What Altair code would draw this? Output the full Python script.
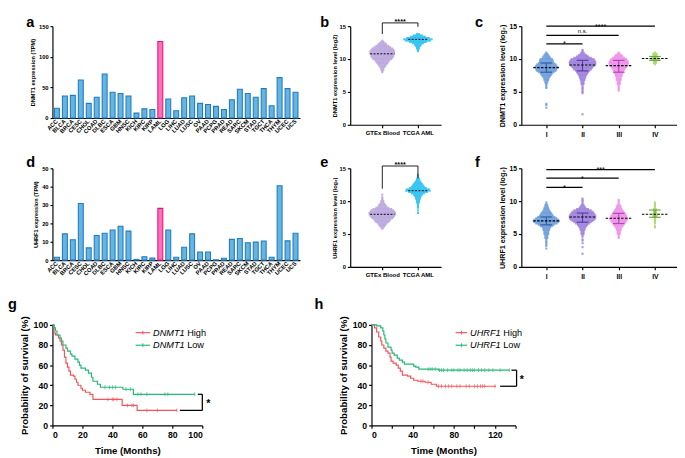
import altair as alt
import pandas as pd
import numpy as np

FONT = "Liberation Sans"

# ---------------- data ----------------
cancers = ["ACC", "BLCA", "BRCA", "CESC", "CHOL", "COAD", "DLBC", "ESCA", "GBM", "HNSC",
           "KICH", "KIRC", "KIRP", "LAML", "LGG", "LIHC", "LUAD", "LUSC", "OV", "PAAD",
           "PCPG", "PRAD", "READ", "SARC", "SKCM", "STAD", "TGCT", "THCA", "THYM", "UCEC", "UCS"]
dnmt1_tpm = [16, 36, 37, 62, 24, 34, 72, 42, 40, 36, 8, 15, 14, 125, 31, 12, 33, 36, 24, 22,
             19, 14, 30, 47, 40, 34, 48, 20, 66, 48, 42]
uhrf1_tpm = [1.6, 14.3, 11.1, 30.8, 6.7, 13.4, 14.6, 16.4, 18.5, 15.8, 0.4, 1.9, 1.2, 28.2, 16.4,
             1.6, 7.0, 14.3, 4.4, 4.4, 0.2, 1.0, 11.3, 11.8, 9.5, 9.8, 10.4, 1.6, 40.5, 10.5, 14.6]

bin_step = 0.2
b_gtex_start = 8.0
b_gtex_counts = [1, 1, 2, 2, 3, 4, 5, 6, 7, 8, 10, 11, 12, 12, 13, 13, 13, 12, 11, 9, 7, 5, 4, 2, 1]
b_aml_start = 11.2
b_aml_counts = [1, 1, 2, 2, 3, 4, 6, 9, 13, 15, 12, 8, 5, 2]
e_gtex_start = 5.8
e_gtex_counts = [1, 2, 3, 4, 5, 7, 8, 9, 11, 12, 13, 14, 14, 13, 12, 10, 7, 5, 4, 3, 2, 2, 1, 1, 1, 0, 1]
e_aml_start = 8.2
e_aml_counts = [1, 0, 1, 0, 1, 1, 1, 1, 2, 2, 2, 3, 3, 4, 5, 7, 10, 13, 12, 9, 7, 6, 5, 4, 3, 2, 2, 1, 1, 1]

stages = ["I", "II", "III", "IV"]
c_starts = [2.6, 1.6, 5.2, 9.2]
c_counts = [
    [1, 0, 1, 1] + [0] * 11 + [1, 1, 1, 1, 2, 2, 3, 3, 4, 5, 6, 7, 9, 11, 12, 12, 13, 12, 11, 9, 8, 8, 7, 5, 4, 3, 2, 1],
    [1] + [0] * 15 + [1, 1, 1, 1, 1, 1, 1, 2, 2, 2, 3, 3, 4, 4, 5, 6, 7, 8, 10, 11, 12, 14, 15, 15, 15, 14, 13, 10, 7, 5, 3, 2, 1, 1],
    [1, 1, 1, 1, 1, 2, 2, 2, 3, 3, 3, 4, 4, 5, 5, 6, 7, 8, 9, 10, 11, 11, 11, 10, 9, 7, 5, 4, 2, 1],
    [1, 2, 2, 3, 5, 4, 3, 2, 3, 1],
]
f_starts = [2.8, 2.0, 4.4, 6.0]
f_counts = [
    [1, 0, 1, 1, 1, 1, 1, 1, 2, 2, 2, 3, 3, 3, 4, 4, 5, 7, 9, 12, 14, 15, 14, 12, 10, 8, 7, 6, 5, 4, 3, 3, 2, 2, 1, 1],
    [1, 0, 0, 0, 0, 1, 0, 0, 1, 0, 1, 1, 0, 1, 1, 2, 2, 2, 3, 3, 4, 5, 6, 8, 10, 12, 14, 15, 15, 15, 14, 13, 12, 10, 7, 4, 3, 2, 1, 1, 1, 1, 1],
    [1, 1, 1, 2, 2, 2, 3, 3, 4, 5, 6, 7, 8, 9, 10, 10, 9, 9, 8, 7, 6, 5, 4, 3, 3, 2, 1, 1, 1, 1],
    [1, 1, 0, 1, 1, 1, 1, 1, 2, 3, 3, 2, 2, 2, 2, 1, 1, 1, 1, 1],
]
c_sig_y = [12.3, 13.6, 15.0]
c_sig_txt = ["*", "n.s.", "****"]
f_sig_y = [12.1, 13.5, 14.8]
f_sig_txt = ["*", "*", "***"]

# Kaplan-Meier (months, % surviving after each step)
g_hi_t = [0, 1, 2, 4, 5, 6, 7, 8, 9, 10, 11, 12, 14, 15, 16, 17, 19, 20, 22, 25, 27, 46.5, 56.5, 83]
g_hi_s = [100, 92, 90, 87, 84, 80, 75, 68, 62, 58, 54, 50, 49, 46, 43, 40, 37, 35, 33, 31, 26, 20, 15, 15]
g_hi_cens = [37, 40, 41, 43, 50, 53, 54, 63, 70, 83]
g_lo_t = [0, 1, 2, 3, 5, 6, 7, 9, 10, 12, 13, 15, 17, 18, 19, 22, 24, 26, 27, 30, 32, 47, 54, 95]
g_lo_s = [100, 97, 94, 90, 87, 84, 80, 77, 74, 71, 69, 66, 63, 60, 57, 55, 52, 48, 44, 41, 38, 36, 31, 31]
g_lo_cens = [35, 38, 40, 42, 49, 52, 57, 59, 63, 75, 77, 95]

h_hi_t = [0, 3, 5, 7, 9, 10, 12, 14, 16, 18, 19, 21, 24, 26, 28, 30, 35, 38, 41, 45, 52, 58, 63, 121]
h_hi_s = [100, 97, 93, 88, 84, 80, 77, 74, 72, 68, 64, 62, 60, 57, 54, 50, 49, 47, 45, 44, 43, 41, 39, 39]
h_hi_cens = [48, 50, 55, 65, 68, 72, 75, 78, 83, 86, 92, 95, 100, 103, 106, 108, 110, 120]
h_lo_t = [0, 5, 9, 11, 12, 13, 14, 16, 19, 20, 22, 25, 27, 30, 32, 41, 43, 46, 65, 134]
h_lo_s = [100, 99, 97, 94, 90, 86, 82, 78, 75, 72, 70, 67, 65, 63, 61, 59, 58, 56, 55, 55]
h_lo_cens = [55, 57, 59, 62, 66, 68, 70, 74, 78, 80, 84, 86, 90, 93, 96, 98, 100, 104, 107, 110, 114, 118, 125, 134]

# ---------------- styling ----------------
BLUE_FILL, BLUE_STROKE = "#65b4e2", "#1f7cc0"
PINK_FILL, PINK_STROKE = "#ff70b6", "#e8137f"
LAV, CYAN = "#b9a5de", "#2fc3f2"
ST_COL = ["#6b9bd9", "#9c7fdc", "#ef8fea", "#a9d56f"]
ST_BAR = ["#2f5fa8", "#5c3fa3", "#b347b3", "#6aa832"]
RED, GREEN = "#f2545b", "#25b877"
RAW = alt.Color("col:N", scale=None, legend=None)
ONE = pd.DataFrame({"v": [0]})


def letter(t, dx, dy):
    return alt.Chart(ONE).mark_text(text=t, fontSize=15, fontWeight="bold", align="left",
                                    baseline="alphabetic", color="black", font=FONT).encode(
        x=alt.value(dx), y=alt.value(dy))


def expand(start, counts, gx, dx):
    xs, ys = [], []
    for i, n in enumerate(counts):
        v = round(start + i * bin_step, 2)
        for k in range(n):
            xs.append(gx + (k - (n - 1) / 2) * dx)
            ys.append(v)
    return xs, ys


def bar_panel(vals, ytitle, ymax, ystep, let, ldy):
    df = pd.DataFrame({"cancer": cancers, "tpm": vals})
    df["col"] = [PINK_FILL if cn == "LAML" else BLUE_FILL for cn in cancers]
    df["scol"] = [PINK_STROKE if cn == "LAML" else BLUE_STROKE for cn in cancers]
    x = alt.X("cancer:N", sort=cancers, title=None,
              scale=alt.Scale(paddingInner=0.38, paddingOuter=0.25),
              axis=alt.Axis(labelAngle=-45, labelAlign="right", labelBaseline="middle", ticks=False,
                            labelFontSize=6, labelPadding=2))
    y = alt.Y("tpm:Q", scale=alt.Scale(domain=[0, ymax], nice=False),
              axis=alt.Axis(values=list(range(0, ymax + 1, ystep)), title=ytitle, titleFontSize=5.8,
                            labelFontSize=6, titlePadding=3, tickSize=2.5))
    bars = alt.Chart(df).mark_bar(strokeWidth=1.1).encode(
        x=x, y=y, fill=alt.Color("col:N", scale=None, legend=None),
        stroke=alt.Color("scol:N", scale=None, legend=None))
    return alt.layer(bars, letter(let, -27, ldy)).properties(width=256, height=95)


def two_group_panel(g_start, g_counts, a_start, a_counts, ytitle, let, ldy, br):
    dx = 0.055
    xs0, ys0 = expand(g_start, g_counts, 0, dx)
    xs1, ys1 = expand(a_start, a_counts, 1, dx)
    pts = pd.DataFrame({"x": xs0 + xs1, "y": ys0 + ys1,
                        "col": [LAV] * len(xs0) + [CYAN] * len(xs1)})
    X = alt.X("x:Q", scale=alt.Scale(domain=[-0.9, 1.65], nice=False, zero=False),
              axis=alt.Axis(values=[0, 1], labelExpr="datum.value == 0 ? 'GTEx Blood' : 'TCGA AML'",
                            title=None, labelFontSize=6.2, tickSize=3, labelPadding=2))
    Y = alt.Y("y:Q", scale=alt.Scale(domain=[0, 15], nice=False),
              axis=alt.Axis(values=[0, 5, 10, 15], title=ytitle, titleFontSize=5.9, labelFontSize=6,
                            titlePadding=2, tickSize=3))
    points = alt.Chart(pts).mark_square(size=4.5, opacity=0.9).encode(x=X, y=Y, color=RAW)
    med = pd.DataFrame({"x": [-0.34, 0.73], "x2": [0.34, 1.27],
                        "y": [float(np.median(ys0)), float(np.median(ys1))]})
    medl = alt.Chart(med).mark_rule(strokeDash=[2, 1.5], color="black", strokeWidth=1).encode(
        x=X, x2="x2:Q", y=Y)
    lo0, lo1, top = br
    brk = pd.DataFrame({"x": [0, 0, 1], "x2": [0, 1, 1], "y": [lo0, top, lo1], "y2": [top, top, top]})
    brl = alt.Chart(brk).mark_rule(color="black", strokeWidth=0.9).encode(x=X, x2="x2:Q", y=Y, y2="y2:Q")
    st = pd.DataFrame({"x": [0.5], "y": [top], "t": ["****"]})
    stt = alt.Chart(st).mark_text(fontSize=7.5, fontWeight="bold", baseline="alphabetic", dy=1.5,
                                  color="black").encode(x=X, y=Y, text="t:N")
    return alt.layer(points, medl, brl, stt, letter(let, -31, ldy)).properties(width=94, height=102)


def stage_panel(starts, counts, ytitle, sig_y, sig_txt, let, ldy):
    dx = 0.05
    xs, ys, cs = [], [], []
    med_rows, err_rows = [], []
    for i, (s0, cn) in enumerate(zip(starts, counts)):
        a, b = expand(s0, cn, i, dx)
        xs += a
        ys += b
        cs += [ST_COL[i]] * len(a)
        q1, q2, q3 = np.percentile(b, [25, 50, 75])
        med_rows.append({"x": i - 0.36, "x2": i + 0.36, "y": float(q2)})
        err_rows.append({"x": i, "x2": i, "y": float(q1), "y2": float(q3), "col": ST_BAR[i]})
        err_rows.append({"x": i - 0.16, "x2": i + 0.16, "y": float(q1), "y2": float(q1), "col": ST_BAR[i]})
        err_rows.append({"x": i - 0.16, "x2": i + 0.16, "y": float(q3), "y2": float(q3), "col": ST_BAR[i]})
    pts = pd.DataFrame({"x": xs, "y": ys, "col": cs})
    X = alt.X("x:Q", scale=alt.Scale(domain=[-0.69, 3.61], nice=False, zero=False),
              axis=alt.Axis(values=[0, 1, 2, 3], labelExpr="['I','II','III','IV'][datum.value]",
                            title=None, labelFontSize=7, tickSize=3, labelPadding=3))
    Y = alt.Y("y:Q", scale=alt.Scale(domain=[0, 15], nice=False),
              axis=alt.Axis(values=[0, 5, 10, 15], title=ytitle, titleFontSize=7.4, labelFontSize=7,
                            titlePadding=3, tickSize=3))
    points = alt.Chart(pts).mark_square(size=4.5, opacity=0.85).encode(x=X, y=Y, color=RAW)
    errl = alt.Chart(pd.DataFrame(err_rows)).mark_rule(strokeWidth=1.2).encode(
        x=X, x2="x2:Q", y=Y, y2="y2:Q", color=RAW)
    medl = alt.Chart(pd.DataFrame(med_rows)).mark_rule(strokeDash=[2.5, 1.5], color="black",
                                                       strokeWidth=1.1).encode(x=X, x2="x2:Q", y=Y)
    sig = pd.DataFrame({"x": [0, 0, 0], "x2": [1, 2, 3], "y": sig_y, "t": sig_txt})
    sigl = alt.Chart(sig).mark_rule(color="black", strokeWidth=1.2).encode(x=X, x2="x2:Q", y=Y)
    sig_t = pd.DataFrame({"x": [0.5, 1.0, 1.5], "y": sig_y, "t": sig_txt})
    star_t = alt.Chart(sig_t).transform_filter(alt.datum.t != "n.s.").mark_text(
        fontSize=7.5, baseline="alphabetic", dy=2.5, color="black").encode(x=X, y=Y, text="t:N")
    ns_t = alt.Chart(sig_t).transform_filter(alt.datum.t == "n.s.").mark_text(
        fontSize=6, baseline="alphabetic", dy=-2, color="black").encode(x=X, y=Y, text="t:N")
    return alt.layer(points, errl, medl, sigl, star_t, ns_t, letter(let, -48, ldy)).properties(
        width=161, height=102)


def step_val(ts, ss, t):
    v = ss[0]
    for ti, si in zip(ts, ss):
        if ti <= t:
            v = si
    return v


def km_panel(hi_t, hi_s, hi_c, lo_t, lo_s, lo_c, gene, gene_w, xmax, width, br, let, ldx, ldy, leg_x):
    curves = pd.concat([pd.DataFrame({"x": hi_t, "y": hi_s, "col": RED}),
                        pd.DataFrame({"x": lo_t, "y": lo_s, "col": GREEN})])
    cens = pd.concat([pd.DataFrame({"x": hi_c, "y": [step_val(hi_t, hi_s, c) for c in hi_c], "col": RED}),
                      pd.DataFrame({"x": lo_c, "y": [step_val(lo_t, lo_s, c) for c in lo_c], "col": GREEN})])
    X = alt.X("x:Q", scale=alt.Scale(domain=[0, xmax], nice=False),
              axis=alt.Axis(values=list(range(0, xmax + 1, 20)), title="Time (Months)", labelFontSize=9,
                            titleFontSize=10, titlePadding=7, tickSize=3, labelPadding=2))
    Y = alt.Y("y:Q", scale=alt.Scale(domain=[0, 100], nice=False),
              axis=alt.Axis(values=[0, 20, 40, 60, 80, 100], title="Probability of survival (%)",
                            labelFontSize=9, titleFontSize=10, titlePadding=4, tickSize=3))
    lines = alt.Chart(curves).mark_line(interpolate="step-after", strokeWidth=1.2).encode(
        x=X, y=Y, color=RAW, order="x:Q")
    ticks = alt.Chart(cens).mark_tick(orient="vertical", size=4, thickness=1).encode(x=X, y=Y, color=RAW)
    xs_br, ys_br, star_x = br
    xv = xmax + 1 if xmax > 100 else xmax
    bdf = pd.DataFrame({"x": [xs_br[0], xs_br[1], xv], "x2": [xv, xv, xv],
                        "y": [ys_br[0], ys_br[1], ys_br[0]], "y2": [ys_br[0], ys_br[1], ys_br[1]]})
    bl = alt.Chart(bdf).mark_rule(color="black", strokeWidth=1.3).encode(x=X, x2="x2:Q", y=Y, y2="y2:Q")
    star = alt.Chart(pd.DataFrame({"x": [star_x], "y": [(ys_br[0] + ys_br[1]) / 2], "t": ["*"]})).mark_text(
        fontSize=11, fontWeight="bold", baseline="middle", dy=2, color="black").encode(x=X, y=Y, text="t:N")
    legs = []
    for yy, col, lab in [(8, RED, "High"), (21, GREEN, "Low")]:
        legs.append(alt.Chart(ONE).mark_rule(color=col, strokeWidth=1.2).encode(
            x=alt.value(leg_x[0]), x2=alt.value(leg_x[1]), y=alt.value(yy)))
        mid = (leg_x[0] + leg_x[1]) / 2
        legs.append(alt.Chart(ONE).mark_rule(color=col, strokeWidth=1).encode(
            x=alt.value(mid), y=alt.value(yy - 2), y2=alt.value(yy + 2)))
        legs.append(alt.Chart(ONE).mark_text(text=gene, fontSize=9.5, fontStyle="italic", align="left",
                                             baseline="middle", color="black").encode(
            x=alt.value(leg_x[1] + 3), y=alt.value(yy)))
        legs.append(alt.Chart(ONE).mark_text(text=lab, fontSize=9.5, align="left", baseline="middle",
                                             color="black").encode(
            x=alt.value(leg_x[1] + 3 + gene_w), y=alt.value(yy)))
    return alt.layer(lines, ticks, bl, star, *legs, letter(let, ldx, ldy)).properties(
        width=width, height=104)


def spacer(w, h):
    return alt.Chart(ONE).mark_point(opacity=0).encode(
        x=alt.X("v:Q", axis=None), y=alt.Y("v:Q", axis=None)).properties(width=w, height=h)


R1, R2, R3 = 1, -1, -16  # letter baselines relative to each row's plot top
a = bar_panel(dnmt1_tpm, "DNMT1 expression (TPM)", 150, 50, "a", R1)
d = bar_panel(uhrf1_tpm, "UHRF1 expression (TPM)", 50, 10, "d", R2)
b = two_group_panel(b_gtex_start, b_gtex_counts, b_aml_start, b_aml_counts,
                    "DNMT1 expression level (log2)", "b", R1, (13.8, 14.9, 15.5))
e = two_group_panel(e_gtex_start, e_gtex_counts, e_aml_start, e_aml_counts,
                    "UHRF1 expression level (log₂)", "e", R2, (11.9, 13.5, 15.35))
c = stage_panel(c_starts, c_counts, "DNMT1 expression level (log₂)", c_sig_y, c_sig_txt, "c", R1)
f = stage_panel(f_starts, f_counts, "UHRF1 expression level (log₂)", f_sig_y, f_sig_txt, "f", R2)
g = km_panel(g_hi_t, g_hi_s, g_hi_cens, g_lo_t, g_lo_s, g_lo_cens, "DNMT1", 35.3, 100, 155,
             ((85, 97), (15, 31), 104), "g", -46, R3, (86, 101))
h = km_panel(h_hi_t, h_hi_s, h_hi_cens, h_lo_t, h_lo_s, h_lo_cens, "UHRF1", 34.3, 140, 149,
             ((125, 136), (39, 55), 146), "h", -59, R3, (87, 99))

row1 = alt.hconcat(a, spacer(1, 95), b, spacer(32, 95), c, spacing=25.5, bounds="flush")
row2 = alt.hconcat(d, spacer(1, 95), e, spacer(32, 95), f, spacing=25.5, bounds="flush")
row3 = alt.hconcat(g, h, spacing=175, bounds="flush")

chart = alt.vconcat(row1, row2, row3, spacing=19).properties(padding=0).configure(
    font=FONT).configure_view(stroke=None).configure_axis(
    grid=False, domainColor="black", tickColor="black", labelColor="black", titleColor="black",
    labelFontWeight="bold", titleFontWeight="bold", domainWidth=1.2, tickWidth=1.2,
    labelFont=FONT, titleFont=FONT)

chart.save("out.html", embed_options={"renderer": "svg", "actions": False})
